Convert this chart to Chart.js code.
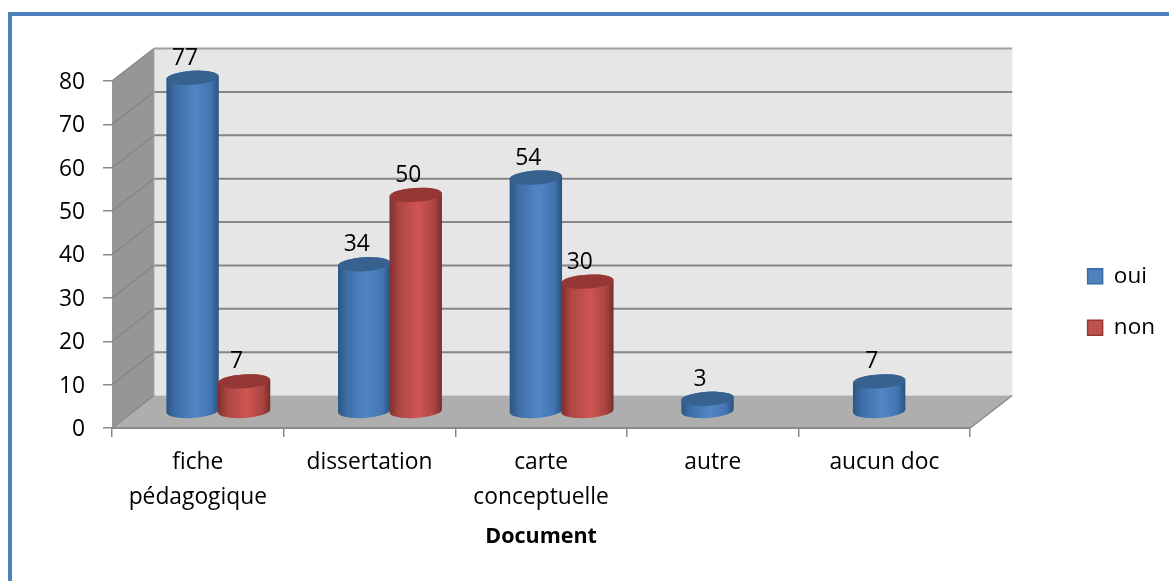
<!DOCTYPE html>
<html lang="fr">
<head>
<meta charset="utf-8">
<title>Document</title>
<script src="https://cdn.jsdelivr.net/npm/chart.js@4/dist/chart.umd.js"></script>
<style>
  html, body { margin: 0; padding: 0; background: #fff; overflow: hidden; }
  #frame { position: absolute; left: 8px; top: 12px; right: 0; bottom: 0;
           border-left: 4px solid #4f81bd; border-top: 4px solid #4f81bd; }
  #wrap { position: absolute; left: 0; top: 0; width: 1169px; height: 581px; }
</style>
</head>
<body>
<div id="frame"></div>
<div id="wrap"><canvas id="chart" width="1169" height="581"></canvas></div>
<script>
const categories = [["fiche", "pédagogique"], "dissertation", ["carte", "conceptuelle"], "autre", "aucun doc"];
const oui = [77, 34, 54, 3, 7];
const non = [7, 50, 30, null, null];
const yTicks = [0, 10, 20, 30, 40, 50, 60, 70, 80];
const FONT = "'Open Sans', Lato, sans-serif";

// Depth of the 3D box, in pixels, and the tilt of the cylinder caps.
const DEPTH_X = 42, DEPTH_Y = -32.5, CAP_RY = 7, CAP_TILT = -0.06;

const palettes = [
  { stops: ["#2c5683", "#3f6fa8", "#5185c5", "#4274b0", "#2a527e"], cap: "#37628f", box: "#4f81bd", edge: "#3a6ba5" },
  { stops: ["#7d302e", "#ad4643", "#cf5552", "#ab4542", "#772d2b"], cap: "#953735", box: "#c0504d", edge: "#953735" }
];

function polygon(ctx, pts, fill) {
  ctx.beginPath();
  pts.forEach((p, i) => i ? ctx.lineTo(p[0], p[1]) : ctx.moveTo(p[0], p[1]));
  ctx.closePath();
  ctx.fillStyle = fill;
  ctx.fill();
}

function line(ctx, x0, y0, x1, y1, color, width) {
  ctx.beginPath();
  ctx.moveTo(x0, y0);
  ctx.lineTo(x1, y1);
  ctx.strokeStyle = color;
  ctx.lineWidth = width;
  ctx.stroke();
}

// Walls, floor and gridlines of the 3D box, placed from the value scale.
const boxPlugin = {
  id: "box3d",
  beforeDraw(chart) {
    const { ctx, scales: { x, y } } = chart;
    const l = x.left, r = x.right, t = y.getPixelForValue(80), b = y.getPixelForValue(0);
    ctx.save();
    polygon(ctx, [[l + DEPTH_X, t + DEPTH_Y], [r + DEPTH_X, t + DEPTH_Y], [r + DEPTH_X, b + DEPTH_Y], [l + DEPTH_X, b + DEPTH_Y]], "#e6e6e6");
    polygon(ctx, [[l, t], [l + DEPTH_X, t + DEPTH_Y], [l + DEPTH_X, b + DEPTH_Y], [l, b]], "#969696");
    polygon(ctx, [[l, b], [l + DEPTH_X, b + DEPTH_Y], [r + DEPTH_X, b + DEPTH_Y], [r, b]], "#aeaeae");
    yTicks.forEach(v => {
      const py = y.getPixelForValue(v);
      line(ctx, l, py, l + DEPTH_X, py + DEPTH_Y, "#868686", 1.5);
      if (v > 0) line(ctx, l + DEPTH_X, py + DEPTH_Y, r + DEPTH_X, py + DEPTH_Y, v === 80 ? "#a0a0a0" : "#868686", 2);
    });
    line(ctx, r, b, r + DEPTH_X, b + DEPTH_Y, "#8a8a8a", 1.5);
    line(ctx, l, b, r, b, "#8a8a8a", 2);
    line(ctx, l + DEPTH_X, t + DEPTH_Y, l + DEPTH_X, b + DEPTH_Y, "#a8a8a8", 1);
    ctx.restore();
  },
  // The bars are painted as cylinders half way into the box, with their value above.
  beforeDatasetsDraw(chart) {
    const ctx = chart.ctx;
    ctx.save();
    chart.data.datasets.forEach((ds, di) => {
      const pal = palettes[di];
      chart.getDatasetMeta(di).data.forEach((bar, i) => {
        if (ds.data[i] === null) return;
        const cx = bar.x + DEPTH_X / 2 - 0.5;
        const top = bar.y + DEPTH_Y / 2;
        const base = bar.base + DEPTH_Y / 2;
        const rx = bar.width / 2 + 0.5;
        const g = ctx.createLinearGradient(cx - rx, 0, cx + rx, 0);
        [0, 0.18, 0.55, 0.85, 1].forEach((s, k) => g.addColorStop(s, pal.stops[k]));
        ctx.beginPath();
        ctx.ellipse(cx, base, rx, CAP_RY, CAP_TILT, 0, Math.PI);
        ctx.ellipse(cx, top, rx, CAP_RY, CAP_TILT, Math.PI, Math.PI * 2);
        ctx.closePath();
        ctx.fillStyle = g;
        ctx.fill();
        ctx.beginPath();
        ctx.ellipse(cx, top, rx, CAP_RY, CAP_TILT, 0, Math.PI * 2);
        ctx.fillStyle = pal.cap;
        ctx.fill();
      });
    });
    ctx.fillStyle = "#000";
    ctx.font = "22.8px " + FONT;
    ctx.textAlign = "center";
    ctx.textBaseline = "middle";
    chart.data.datasets.forEach((ds, di) => {
      chart.getDatasetMeta(di).data.forEach((bar, i) => {
        if (ds.data[i] === null) return;
        ctx.fillText(String(ds.data[i]), bar.x + DEPTH_X / 2 - 8, bar.y + DEPTH_Y / 2 - 19.5);
      });
    });
    ctx.restore();
    return false;
  }
};

new Chart(document.getElementById("chart"), {
  type: "bar",
  data: {
    labels: categories,
    datasets: [
      { label: "oui", data: oui, backgroundColor: palettes[0].box, borderColor: palettes[0].edge },
      { label: "non", data: non, backgroundColor: palettes[1].box, borderColor: palettes[1].edge }
    ]
  },
  plugins: [boxPlugin],
  options: {
    responsive: false,
    animation: false,
    categoryPercentage: 0.6,
    barPercentage: 1,
    layout: { padding: { top: 23, right: 4, bottom: 0, left: 0 } },
    plugins: {
      tooltip: { enabled: false },
      legend: {
        position: "right",
        labels: {
          color: "#000",
          font: { family: FONT, size: 22.5 },
          boxWidth: 15,
          boxHeight: 15,
          padding: 29,
          generateLabels: chart => chart.data.datasets.map((ds, i) => ({
            text: ds.label, fillStyle: ds.backgroundColor, strokeStyle: ds.borderColor,
            lineWidth: 1.5, datasetIndex: i
          }))
        }
      }
    },
    scales: {
      x: {
        type: "category",
        position: "bottom",
        afterFit: s => { s.height = 153; },
        grid: { drawOnChartArea: false, tickLength: 9, color: "#8a8a8a", lineWidth: 1.5 },
        border: { display: false },
        ticks: { color: "#000", font: { family: FONT, size: 22.8, lineHeight: 1.54 }, maxRotation: 0, autoSkip: false, padding: 8 },
        title: { display: true, text: "Document", color: "#000", font: { family: FONT, size: 21.5, weight: "bold" }, padding: { bottom: 31, top: 0 } }
      },
      xTop: {
        type: "category",
        position: "top",
        afterFit: s => { s.height = 58; },
        grid: { display: false },
        border: { display: false },
        ticks: { display: false }
      },
      y: {
        position: "left",
        min: 0,
        max: 80,
        afterFit: s => { s.width = 112; },
        afterBuildTicks: s => { s.ticks = yTicks.map(value => ({ value })); },
        grid: { drawOnChartArea: false, tickLength: 9, color: "#8a8a8a", lineWidth: 1.5 },
        border: { display: false },
        ticks: { color: "#000", font: { family: FONT, size: 22.8 }, padding: 18, labelOffset: 1.5 }
      },
      yGap: {
        position: "right",
        afterFit: s => { s.width = 88.4; },
        grid: { display: false },
        border: { display: false },
        ticks: { display: false }
      }
    }
  }
});
</script>
</body>
</html>
